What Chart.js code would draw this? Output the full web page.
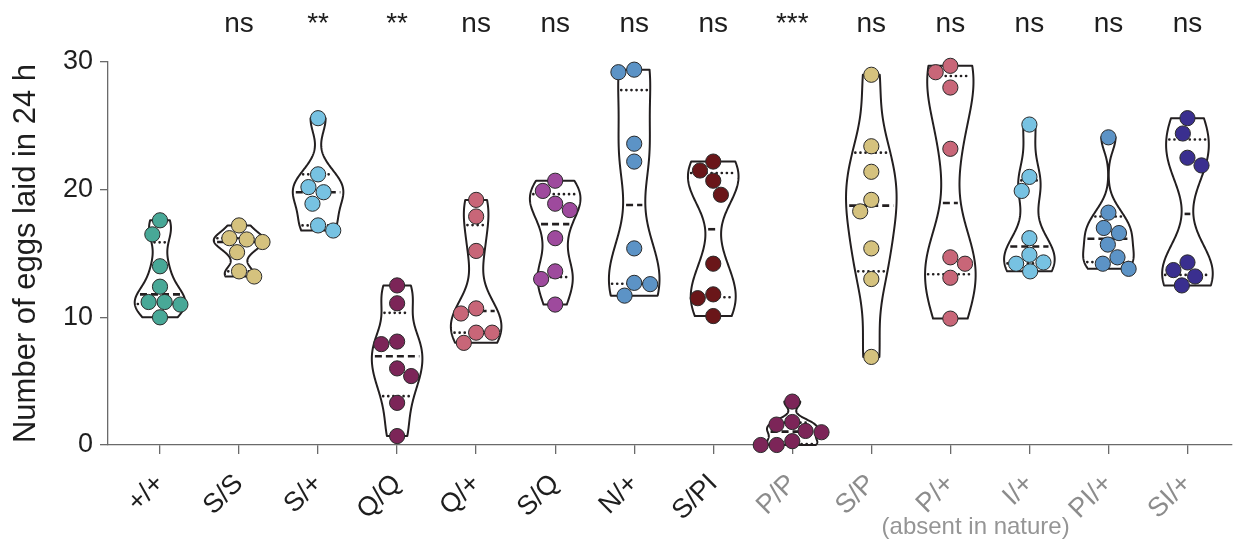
<!DOCTYPE html>
<html><head><meta charset="utf-8">
<script src="https://cdn.jsdelivr.net/npm/chart.js@4"></script>
<style>html,body{margin:0;padding:0;background:#fff}#wrap{width:1240px;height:543px;position:relative}</style>
</head><body><div id="wrap"><canvas id="c"></canvas></div>
<script>
// ---------- data ----------
const categories = ['+/+','S/S','S/+','Q/Q','Q/+','S/Q','N/+','S/PI','P/P','S/P','P/+','I/+','PI/+','SI/+'];
const significance = ['','ns','**','**','ns','ns','ns','ns','***','ns','ns','ns','ns','ns'];
const absentInNature = [false,false,false,false,false,false,false,false,true,true,true,true,true,true];
const absentNote = '(absent in nature)';
const yTitle = 'Number of eggs laid in 24 h';
const yTicks = [0, 10, 20, 30];

const eggsPlusPlus = [17.6, 16.5, 14.0, 12.4, 11.2, 11.0, 11.2, 10.0];
const eggsSS       = [17.2, 15.9, 16.1, 16.2, 15.1, 13.2, 13.6];
const eggsSPlus    = [25.6, 21.2, 20.2, 19.8, 18.9, 16.8, 17.2];
const eggsQQ       = [12.5, 11.1, 7.9, 8.1, 5.4, 6.0, 3.3, 0.7];
const eggsQPlus    = [19.2, 17.9, 15.2, 10.7, 10.3, 8.0, 8.8, 8.8];
const eggsSQ       = [20.7, 19.9, 18.9, 18.4, 16.2, 13.6, 13.0, 11.0];
const eggsNPlus    = [29.2, 29.4, 23.6, 22.2, 15.4, 12.7, 12.6, 11.7];
const eggsSPI      = [22.2, 21.5, 20.7, 19.6, 14.2, 11.8, 11.5, 10.1];
const eggsPP       = [3.4, 1.8, 1.6, 1.1, 1.0, 0.0, 0.3, 0.0];
const eggsSP       = [29.0, 23.4, 21.4, 19.2, 18.3, 15.4, 13.0, 6.9];
const eggsPPlus    = [29.7, 29.2, 28.0, 23.2, 14.7, 14.2, 13.1, 9.9];
const eggsIPlus    = [25.1, 21.0, 19.9, 16.2, 14.9, 13.6, 14.2, 14.3];
const eggsPIPlus   = [24.1, 18.2, 17.0, 16.6, 15.7, 14.7, 13.8, 14.2];
const eggsSIPlus   = [25.6, 24.4, 22.5, 21.9, 14.3, 13.7, 13.2, 12.5];

const groupValues = [eggsPlusPlus, eggsSS, eggsSPlus, eggsQQ, eggsQPlus, eggsSQ, eggsNPlus,
                     eggsSPI, eggsPP, eggsSP, eggsPPlus, eggsIPlus, eggsPIPlus, eggsSIPlus];

// ---------- styles ----------
const groupColors = ['#48a897','#d5c27e','#77c2e2','#7c2558','#c86678','#9e4a9d','#5c93c6',
                     '#6a1619','#7c2558','#d5c27e','#c86678','#77c2e2','#5c93c6','#3a2f8f'];
const FONT = "'Liberation Sans', Arial, sans-serif";
const INK = '#1e1e1e';
const GREY = '#8c8c8c';
const AXIS = '#6a6a6a';
const VIOLIN_HALF = 0.32;   // max half width of a violin, in category units
const DOT_SPACING = 16;     // px, min distance between dot centres

// ---------- helpers ----------
function quantile(sorted, p) {
  const n = sorted.length, pos = p * (n + 1);
  if (pos <= 1) return sorted[0];
  if (pos >= n) return sorted[n - 1];
  const lo = Math.floor(pos), fr = pos - lo;
  return sorted[lo - 1] + fr * (sorted[lo] - sorted[lo - 1]);
}
function bandwidth(s) {
  const n = s.length, m = s.reduce((a, b) => a + b, 0) / n;
  const sd = Math.sqrt(s.reduce((a, v) => a + (v - m) ** 2, 0) / (n - 1));
  const iqr = (quantile(s, 0.75) - quantile(s, 0.25)) / 1.34;
  const spread = Math.min(sd, iqr > 0 ? iqr : sd);
  return 0.67 * 0.9 * spread * Math.pow(n, -0.2);
}
function swarm(ys, d) {
  const order = ys.map((_, k) => k).sort((a, b) => ys[a] - ys[b]);
  const placed = [], xs = new Array(ys.length);
  let side = -1;
  for (const k of order) {
    const y = ys[k], iv = [];
    for (const p of placed) {
      const dy = Math.abs(p.y - y);
      if (dy < d) { const hw = Math.sqrt(d * d - dy * dy); iv.push([p.x - hw, p.x + hw]); }
    }
    const cands = [0];
    iv.forEach(([a, b]) => cands.push(a, b));
    const ok = cands.filter(c => iv.every(([a, b]) => c <= a + 1e-6 || c >= b - 1e-6));
    ok.sort((a, b) => Math.abs(a) - Math.abs(b));
    let best = ok[0];
    const tie = ok.find(c => Math.abs(Math.abs(c) - Math.abs(best)) < 0.5 && Math.sign(c) === side);
    if (best !== 0 && tie !== undefined) best = tie;
    if (best !== 0) side = -Math.sign(best);
    xs[k] = best;
    placed.push({ x: best, y });
  }
  return xs;
}

// ---------- plugins ----------
const violinPlugin = {
  id: 'violins',
  beforeDatasetsDraw(chart) {
    const { ctx, scales: { x, y } } = chart;
    groupValues.forEach((vals, i) => {
      const s = [...vals].sort((a, b) => a - b);
      const h = bandwidth(s);
      const dens = t => s.reduce((acc, v) => acc + Math.exp(-0.5 * ((t - v) / h) ** 2), 0);
      const lo = s[0], hi = s[s.length - 1], N = 160, pts = [];
      let fmax = 0;
      for (let k = 0; k <= N; k++) { const t = lo + (hi - lo) * k / N, f = dens(t); pts.push([t, f]); fmax = Math.max(fmax, f); }
      const hw = f => VIOLIN_HALF * f / fmax;
      ctx.save();
      ctx.beginPath();
      pts.forEach(([t, f], k) => {
        const px = x.getPixelForValue(i - hw(f)), py = y.getPixelForValue(t);
        k ? ctx.lineTo(px, py) : ctx.moveTo(px, py);
      });
      for (let k = N; k >= 0; k--) { const [t, f] = pts[k]; ctx.lineTo(x.getPixelForValue(i + hw(f)), y.getPixelForValue(t)); }
      ctx.closePath();
      ctx.fillStyle = '#fff'; ctx.fill();
      ctx.lineWidth = 2; ctx.strokeStyle = '#231f20'; ctx.lineJoin = 'round'; ctx.stroke();
      [[0.25, false], [0.5, true], [0.75, false]].forEach(([p, dash]) => {
        const q = quantile(s, p), w = hw(dens(q)), py = y.getPixelForValue(q);
        ctx.beginPath();
        ctx.setLineDash(dash ? [7, 4] : [0.1, 5]);
        ctx.lineCap = dash ? 'butt' : 'round';
        ctx.lineWidth = 2.6;
        ctx.moveTo(x.getPixelForValue(i - w) + 3, py);
        ctx.lineTo(x.getPixelForValue(i + w) - 3, py);
        ctx.stroke();
      });
      ctx.restore();
    });
  },
  afterDatasetsUpdate(chart) {
    const xs = chart.scales.x;
    chart.data.datasets.forEach((ds, i) => {
      const meta = chart.getDatasetMeta(i);
      const offs = swarm(meta.data.map(pt => pt.y), DOT_SPACING);
      const cx = xs.getPixelForValue(i);
      meta.data.forEach((pt, k) => { pt.x = cx + offs[k]; });
    });
  },
  afterDraw(chart) {
    const { ctx, scales: { x } } = chart;
    ctx.save();
    ctx.fillStyle = INK;
    ctx.textAlign = 'center';
    ctx.textBaseline = 'alphabetic';
    ctx.font = '28px ' + FONT;
    significance.forEach((t, i) => { if (t) ctx.fillText(t, x.getPixelForValue(i), 32); });
    ctx.fillStyle = '#959595';
    ctx.font = '24px ' + FONT;
    ctx.textBaseline = 'middle';
    ctx.fillText(absentNote, x.getPixelForValue(10.32), 527);
    ctx.restore();
  }
};

// ---------- chart ----------
Chart.defaults.font.family = FONT;
Chart.defaults.color = INK;

const datasets = groupValues.map((vals, i) => ({
  type: 'scatter',
  label: categories[i],
  data: vals.map(v => ({ x: i, y: v })),
  backgroundColor: groupColors[i],
  borderColor: '#2a2a2a',
  borderWidth: 1,
  pointRadius: 7.6,
  pointHoverRadius: 7.6,
  clip: false
}));

new Chart(document.getElementById('c'), {
  type: 'scatter',
  data: { datasets },
  plugins: [violinPlugin],
  options: {
    responsive: true,
    maintainAspectRatio: false,
    animation: false,
    events: [],
    layout: { padding: { top: 62, left: 0, right: 0, bottom: 0 } },
    plugins: { legend: { display: false }, tooltip: { enabled: false } },
    scales: {
      x: {
        type: 'linear',
        min: -0.658, max: 13.556,
        afterBuildTicks: s => { s.ticks = categories.map((_, i) => ({ value: i })); },
        afterFit: s => { s.height = 98; },
        ticks: {
          autoSkip: false, minRotation: 45, maxRotation: 45, padding: 14,
          font: { size: 27 },
          color: c => absentInNature[c.index] ? GREY : INK,
          callback: v => categories[v]
        },
        grid: { display: true, drawOnChartArea: false, drawTicks: true, tickLength: 9, color: AXIS, lineWidth: 1.3 },
        border: { display: true, color: AXIS, width: 1.3 }
      },
      y: {
        min: 0, max: 30,
        afterBuildTicks: s => { s.ticks = yTicks.map(v => ({ value: v })); },
        afterFit: s => { s.width = 108; },
        ticks: { font: { size: 27 }, color: INK, padding: 7 },
        grid: { display: true, drawOnChartArea: false, drawTicks: true, tickLength: 8, color: AXIS, lineWidth: 1.3 },
        border: { display: true, color: AXIS, width: 1.3 },
        title: { display: true, text: yTitle, font: { size: 31 }, color: INK, padding: { top: 8, bottom: 0 } }
      }
    }
  }
});
</script></body></html>
